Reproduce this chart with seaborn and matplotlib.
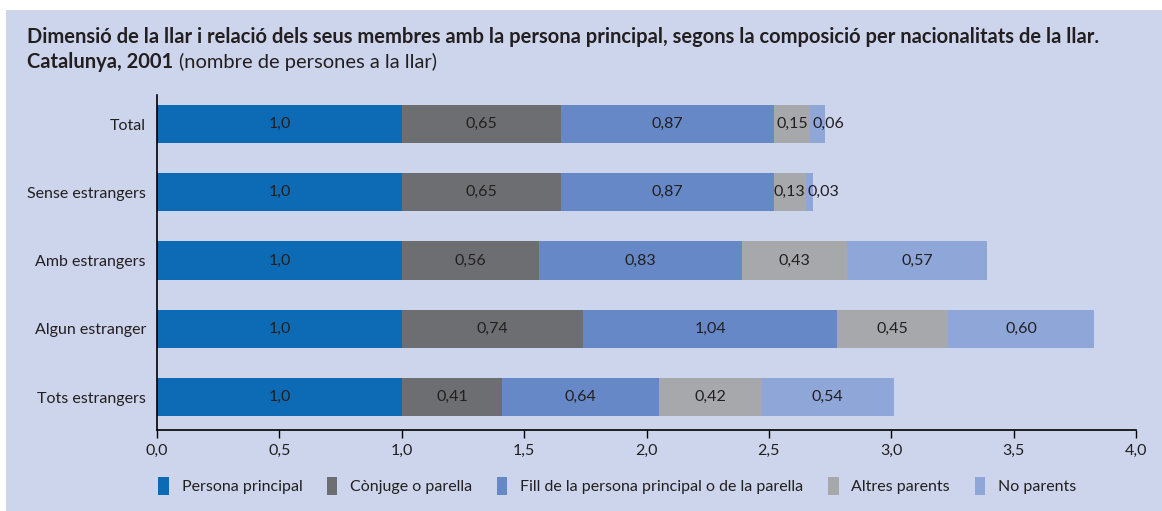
import numpy as np
import pandas as pd
import matplotlib
matplotlib.use("Agg")
import matplotlib.pyplot as plt
import seaborn as sns
from matplotlib.patches import Rectangle, Patch

# data
categories = ["Total", "Sense estrangers", "Amb estrangers", "Algun estranger", "Tots estrangers"]
series = ["Persona principal", "Cònjuge o parella", "Fill de la persona principal o de la parella",
          "Altres parents", "No parents"]
persona_principal = [1.0, 1.0, 1.0, 1.0, 1.0]
conjuge = [0.65, 0.65, 0.56, 0.74, 0.41]
fill = [0.87, 0.87, 0.83, 1.04, 0.64]
altres_parents = [0.15, 0.13, 0.43, 0.45, 0.42]
no_parents = [0.06, 0.03, 0.57, 0.60, 0.54]
xticks = [0.0, 0.5, 1.0, 1.5, 2.0, 2.5, 3.0, 3.5, 4.0]

colors = ["#0d6ab4", "#6d6e71", "#6688c6", "#a7a8ac", "#8ea6d8"]
BG = "#cdd5ec"
TXT = "#231f20"

df = pd.DataFrame({
    series[0]: persona_principal,
    series[1]: conjuge,
    series[2]: fill,
    series[3]: altres_parents,
    series[4]: no_parents,
}, index=categories)

sns.set_theme(style="white")
plt.rcParams["font.family"] = ["Lato", "DejaVu Sans"]

fig = plt.figure(figsize=(11.62, 5.11), dpi=100)
fig.patch.set_facecolor("white")
fig.patches.append(Rectangle((6 / 1162, 0), 1 - 6 / 1162, 1 - 10 / 511,
                             transform=fig.transFigure, facecolor=BG,
                             edgecolor="none", zorder=-10))

ax = fig.add_axes([157 / 1162, 1 - 430 / 511, (1136 - 157) / 1162, (430 - 95) / 511])
ax.patch.set_alpha(0)

# stacked horizontal bars: each layer is the cumulative total, drawn back to front
cum = df.cumsum(axis=1)
for s, c in reversed(list(zip(series, colors))):
    sns.barplot(x=cum[s].values, y=categories, orient="h", color=c, width=0.56,
                ax=ax, saturation=1, edgecolor="none")

left = np.zeros(len(categories))
ypos = np.arange(len(categories))
for s in series:
    vals = df[s].values
    for y, l, v in zip(ypos, left, vals):
        txt = f"{v:.1f}" if s == series[0] else f"{v:.2f}"
        txt = txt.replace(".", ",")
        if v < 0.1:
            ax.text(l + 0.008, y, txt, ha="left", va="center", fontsize=11.5, color=TXT)
        else:
            ax.text(l + v / 2, y, txt, ha="center", va="center", fontsize=11.5, color=TXT)
    left = left + vals

ax.set_xlim(0, 4)
ax.set_ylim(4.48, -0.425)
ax.set_xticks(xticks)
ax.set_xticklabels([f"{t:.1f}".replace(".", ",") for t in xticks], fontsize=11.5, color=TXT)
ax.set_yticks(ypos)
ax.set_yticklabels(categories, fontsize=11.5, color=TXT)
ax.tick_params(axis="x", bottom=True, length=6, width=1, color="black", pad=4)
ax.tick_params(axis="y", left=False, length=0, pad=8)
ax.set_xlabel("")
ax.set_ylabel("")
for side in ["top", "right"]:
    ax.spines[side].set_visible(False)
for side in ["left", "bottom"]:
    ax.spines[side].set_color("black")
    ax.spines[side].set_linewidth(1.2)

fig.text(27 / 1162, 1 - 37 / 511,
         "Dimensió de la llar i relació dels seus membres amb la persona principal, segons la composició per nacionalitats de la llar.",
         fontsize=14.5, fontweight="bold", color=TXT, va="center", ha="left")
t2 = fig.text(27 / 1162, 1 - 62 / 511, "Catalunya, 2001", fontsize=14.5, fontweight="bold",
              color=TXT, va="center", ha="left")
fig.canvas.draw()
bb = t2.get_window_extent()
fig.text((bb.x1 + 6) / 1162, 1 - 62 / 511, "(nombre de persones a la llar)", fontsize=14.5,
         color=TXT, va="center", ha="left")

handles = [Patch(facecolor=c, edgecolor="none") for c in colors]
fig.legend(handles, series, loc="center left", bbox_to_anchor=(144 / 1162, 1 - 486 / 511),
           ncol=5, frameon=False, handlelength=0.65, handleheight=1.3, handletextpad=0.8,
           columnspacing=1.55, prop={"size": 11.5}, labelcolor=TXT)

fig.savefig("out.png", dpi=100, facecolor=fig.get_facecolor())
